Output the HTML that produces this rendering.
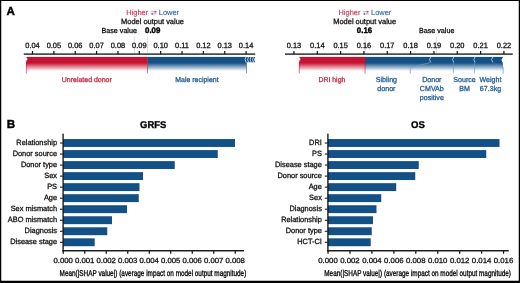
<!DOCTYPE html><html><head><meta charset="utf-8"><title>Figure</title><style>
html,body{margin:0;padding:0;background:#fff}svg{display:block}
text{font-family:"Liberation Sans",Arial,Helvetica,sans-serif;text-rendering:geometricPrecision}
</style></head><body>
<svg width="520" height="283" viewBox="0 0 520 283">
<defs>
<linearGradient id="gr" x1="0" y1="0" x2="0" y2="1"><stop offset="0" stop-color="#c41230"/><stop offset="0.4" stop-color="#c41230"/><stop offset="0.95" stop-color="#c41230" stop-opacity="0"/></linearGradient>
<linearGradient id="gb" x1="0" y1="0" x2="0" y2="1"><stop offset="0" stop-color="#135086"/><stop offset="0.4" stop-color="#135086"/><stop offset="0.95" stop-color="#135086" stop-opacity="0"/></linearGradient>
</defs>
<rect x="0" y="0" width="520" height="283" fill="#fff"/>
<rect x="0" y="0" width="520" height="1" fill="#000"/>
<rect x="0" y="0" width="1.25" height="283" fill="#000"/>
<rect x="518.75" y="0" width="1.25" height="283" fill="#000"/>
<rect x="0" y="280.75" width="520" height="2.25" fill="#000"/>
<text x="6.6" y="14.5" font-size="11.6" font-weight="bold" text-anchor="start" fill="#000" stroke="#000" stroke-width="0.4">A</text>
<text x="6.8" y="127.9" font-size="11.6" font-weight="bold" text-anchor="start" fill="#000" stroke="#000" stroke-width="0.4">B</text>
<rect x="134.25" y="36.8" width="0.7" height="17" fill="#cfcfcf"/>
<rect x="147.15" y="36.8" width="0.7" height="17" fill="#cfcfcf"/>
<rect x="23.75" y="53.45" width="231.5" height="1.3" fill="#111"/>
<rect x="31.90" y="51" width="1.2" height="3" fill="#111"/>
<text transform="translate(32.50 47.6) scale(1 1.03)" font-size="7.45" text-anchor="middle" fill="#111" stroke="#111" stroke-width="0.28">0.04</text>
<rect x="53.26" y="51" width="1.2" height="3" fill="#111"/>
<text transform="translate(53.86 47.6) scale(1 1.03)" font-size="7.45" text-anchor="middle" fill="#111" stroke="#111" stroke-width="0.28">0.05</text>
<rect x="74.62" y="51" width="1.2" height="3" fill="#111"/>
<text transform="translate(75.22 47.6) scale(1 1.03)" font-size="7.45" text-anchor="middle" fill="#111" stroke="#111" stroke-width="0.28">0.06</text>
<rect x="95.98" y="51" width="1.2" height="3" fill="#111"/>
<text transform="translate(96.58 47.6) scale(1 1.03)" font-size="7.45" text-anchor="middle" fill="#111" stroke="#111" stroke-width="0.28">0.07</text>
<rect x="117.34" y="51" width="1.2" height="3" fill="#111"/>
<text transform="translate(117.94 47.6) scale(1 1.03)" font-size="7.45" text-anchor="middle" fill="#111" stroke="#111" stroke-width="0.28">0.08</text>
<rect x="138.70" y="51" width="1.2" height="3" fill="#111"/>
<text transform="translate(139.30 47.6) scale(1 1.03)" font-size="7.45" text-anchor="middle" fill="#111" stroke="#111" stroke-width="0.28">0.09</text>
<rect x="160.06" y="51" width="1.2" height="3" fill="#111"/>
<text transform="translate(160.66 47.6) scale(1 1.03)" font-size="7.45" text-anchor="middle" fill="#111" stroke="#111" stroke-width="0.28">0.10</text>
<rect x="181.42" y="51" width="1.2" height="3" fill="#111"/>
<text transform="translate(182.02 47.6) scale(1 1.03)" font-size="7.45" text-anchor="middle" fill="#111" stroke="#111" stroke-width="0.28">0.11</text>
<rect x="202.78" y="51" width="1.2" height="3" fill="#111"/>
<text transform="translate(203.38 47.6) scale(1 1.03)" font-size="7.45" text-anchor="middle" fill="#111" stroke="#111" stroke-width="0.28">0.12</text>
<rect x="224.14" y="51" width="1.2" height="3" fill="#111"/>
<text transform="translate(224.74 47.6) scale(1 1.03)" font-size="7.45" text-anchor="middle" fill="#111" stroke="#111" stroke-width="0.28">0.13</text>
<rect x="245.50" y="51" width="1.2" height="3" fill="#111"/>
<text transform="translate(246.10 47.6) scale(1 1.03)" font-size="7.45" text-anchor="middle" fill="#111" stroke="#111" stroke-width="0.28">0.14</text>
<rect x="26" y="56.9" width="121.5" height="14.8" fill="url(#gr)"/>
<rect x="147.5" y="56.9" width="98.9" height="14.8" fill="url(#gb)"/>
<path d="M25.8 56.6 L27.5 58.9 L26.5 62 L25.8 62 Z" fill="#fff"/>
<rect x="25.9" y="60" width="0.7" height="13.5" fill="#c41230" opacity="0.8"/>
<rect x="147.2" y="56.9" width="0.7" height="16.6" fill="#c41230" opacity="0.8"/>
<text transform="translate(126.3 14.8) scale(1 1.03)" font-size="7.45" text-anchor="start" fill="#cc3350" stroke="#cc3350" stroke-width="0.12">Higher</text>
<text transform="translate(158.8 14.8) scale(1 1.03)" font-size="7.45" text-anchor="start" fill="#2e69a3" stroke="#2e69a3" stroke-width="0.12">Lower</text>
<path d="M150.90 11.75 H155.40" fill="none" stroke="#e08391" stroke-width="0.8"/>
<path d="M154.60 10.6 L157.20 11.75 L154.60 12.9 Z" fill="#d3455d"/>
<rect x="152.20" y="13.15" width="4.2" height="1.5" fill="#b4cce3"/>
<path d="M152.70 12.7 L150.60 13.9 L152.70 15.1 Z" fill="#356fa8"/>
<text transform="translate(152.5 24.2) scale(1 1.03)" font-size="7.45" text-anchor="middle" fill="#111" stroke="#111" stroke-width="0.28">Model output value</text>
<text transform="translate(136.9 33) scale(1 1.03)" font-size="7.15" text-anchor="end" fill="#111" stroke="#111" stroke-width="0.28">Base value</text>
<text transform="translate(152.7 33) scale(1 1.03)" font-size="7.8500000000000005" font-weight="bold" text-anchor="middle" fill="#000" stroke="#000" stroke-width="0.4">0.09</text>
<rect x="246.0" y="61" width="0.7" height="12.5" fill="#135086" opacity="0.8"/>
<path d="M245 56.9 L255.3 56.9 Q253.1 59.55 255.3 62.2 L245 62.2 Z" fill="#135086"/>
<path d="M246.20 56.5 Q244.00 59.55 246.20 62.6" fill="none" stroke="#fff" stroke-width="0.7"/>
<path d="M248.70 56.5 Q246.50 59.55 248.70 62.6" fill="none" stroke="#fff" stroke-width="0.7"/>
<path d="M251.20 56.5 Q249.00 59.55 251.20 62.6" fill="none" stroke="#fff" stroke-width="0.7"/>
<path d="M253.70 56.5 Q251.50 59.55 253.70 62.6" fill="none" stroke="#fff" stroke-width="0.7"/>
<text transform="translate(86.8 82.3) scale(1 1.03)" font-size="6.98" text-anchor="middle" fill="#c8283f" stroke="#c8283f" stroke-width="0.28">Unrelated donor</text>
<text transform="translate(196.9 82.4) scale(1 1.03)" font-size="6.98" text-anchor="middle" fill="#235d96" stroke="#235d96" stroke-width="0.28">Male recipient</text>
<rect x="435.9" y="36.8" width="0.7" height="17" fill="#cfcfcf"/>
<rect x="364.65" y="36.8" width="0.7" height="17" fill="#cfcfcf"/>
<rect x="285" y="53.45" width="227.75" height="1.3" fill="#111"/>
<rect x="293.35" y="51" width="1.2" height="3" fill="#111"/>
<text transform="translate(293.95 47.6) scale(1 1.03)" font-size="7.45" text-anchor="middle" fill="#111" stroke="#111" stroke-width="0.28">0.13</text>
<rect x="316.68" y="51" width="1.2" height="3" fill="#111"/>
<text transform="translate(317.28 47.6) scale(1 1.03)" font-size="7.45" text-anchor="middle" fill="#111" stroke="#111" stroke-width="0.28">0.14</text>
<rect x="340.01" y="51" width="1.2" height="3" fill="#111"/>
<text transform="translate(340.61 47.6) scale(1 1.03)" font-size="7.45" text-anchor="middle" fill="#111" stroke="#111" stroke-width="0.28">0.15</text>
<rect x="363.34" y="51" width="1.2" height="3" fill="#111"/>
<text transform="translate(363.94 47.6) scale(1 1.03)" font-size="7.45" text-anchor="middle" fill="#111" stroke="#111" stroke-width="0.28">0.16</text>
<rect x="386.67" y="51" width="1.2" height="3" fill="#111"/>
<text transform="translate(387.27 47.6) scale(1 1.03)" font-size="7.45" text-anchor="middle" fill="#111" stroke="#111" stroke-width="0.28">0.17</text>
<rect x="410.00" y="51" width="1.2" height="3" fill="#111"/>
<text transform="translate(410.60 47.6) scale(1 1.03)" font-size="7.45" text-anchor="middle" fill="#111" stroke="#111" stroke-width="0.28">0.18</text>
<rect x="433.33" y="51" width="1.2" height="3" fill="#111"/>
<text transform="translate(433.93 47.6) scale(1 1.03)" font-size="7.45" text-anchor="middle" fill="#111" stroke="#111" stroke-width="0.28">0.19</text>
<rect x="456.66" y="51" width="1.2" height="3" fill="#111"/>
<text transform="translate(457.26 47.6) scale(1 1.03)" font-size="7.45" text-anchor="middle" fill="#111" stroke="#111" stroke-width="0.28">0.20</text>
<rect x="479.99" y="51" width="1.2" height="3" fill="#111"/>
<text transform="translate(480.59 47.6) scale(1 1.03)" font-size="7.45" text-anchor="middle" fill="#111" stroke="#111" stroke-width="0.28">0.21</text>
<rect x="503.32" y="51" width="1.2" height="3" fill="#111"/>
<text transform="translate(503.92 47.6) scale(1 1.03)" font-size="7.45" text-anchor="middle" fill="#111" stroke="#111" stroke-width="0.28">0.22</text>
<rect x="299" y="56.9" width="66" height="14.8" fill="url(#gr)"/>
<rect x="365" y="56.9" width="138" height="14.8" fill="url(#gb)"/>
<path d="M298.8 56.6 L300.5 58.9 L299.5 62 L298.8 62 Z" fill="#fff"/>
<rect x="298.9" y="60" width="0.7" height="13.5" fill="#c41230" opacity="0.8"/>
<rect x="364.7" y="56.9" width="0.7" height="16.6" fill="#c41230" opacity="0.8"/>
<text transform="translate(338.5 14.8) scale(1 1.03)" font-size="7.45" text-anchor="start" fill="#cc3350" stroke="#cc3350" stroke-width="0.12">Higher</text>
<text transform="translate(371.0 14.8) scale(1 1.03)" font-size="7.45" text-anchor="start" fill="#2e69a3" stroke="#2e69a3" stroke-width="0.12">Lower</text>
<path d="M363.10 11.75 H367.60" fill="none" stroke="#e08391" stroke-width="0.8"/>
<path d="M366.80 10.6 L369.40 11.75 L366.80 12.9 Z" fill="#d3455d"/>
<rect x="364.40" y="13.15" width="4.2" height="1.5" fill="#b4cce3"/>
<path d="M364.90 12.7 L362.80 13.9 L364.90 15.1 Z" fill="#356fa8"/>
<text transform="translate(364.7 24.2) scale(1 1.03)" font-size="7.45" text-anchor="middle" fill="#111" stroke="#111" stroke-width="0.28">Model output value</text>
<text transform="translate(436.7 33) scale(1 1.03)" font-size="7.15" text-anchor="middle" fill="#111" stroke="#111" stroke-width="0.28">Base value</text>
<text transform="translate(364.5 33) scale(1 1.03)" font-size="7.8500000000000005" font-weight="bold" text-anchor="middle" fill="#000" stroke="#000" stroke-width="0.4">0.16</text>
<path d="M430.8 57 L429.5 59.7 L430.8 62.4" fill="none" stroke="#b5cbe0" stroke-width="0.9"/>
<path d="M453.8 57 L452.5 59.7 L453.8 62.4" fill="none" stroke="#b5cbe0" stroke-width="0.9"/>
<path d="M475.1 57 L473.8 59.7 L475.1 62.4" fill="none" stroke="#b5cbe0" stroke-width="0.9"/>
<path d="M492.8 57 L491.5 59.7 L492.8 62.4" fill="none" stroke="#b5cbe0" stroke-width="0.9"/>
<path d="M503.4 56.6 L501.4 59.9 L502.6 62.4 L503.6 67.4 L504 67.4 L504 56.6 Z" fill="#fff"/>
<path d="M430.5 62.4 L410.3 67.7 L410.3 73.5" fill="none" stroke="#6f99c2" stroke-width="0.7"/>
<path d="M453.4 62.4 L453.4 73.5" fill="none" stroke="#6f99c2" stroke-width="0.7"/>
<path d="M474.6 62.4 L474.6 73.5" fill="none" stroke="#6f99c2" stroke-width="0.7"/>
<path d="M492.6 62.4 L502.6 67.6" fill="none" stroke="#6f99c2" stroke-width="0.6" opacity="0.4"/>
<path d="M503.1 66.9 L503.1 73.5" fill="none" stroke="#6f99c2" stroke-width="0.8"/>
<text transform="translate(331.9 82.30) scale(1 1.03)" font-size="6.9" text-anchor="middle" fill="#c8283f" stroke="#c8283f" stroke-width="0.28">DRI high</text>
<text transform="translate(386.4 82.30) scale(1 1.03)" font-size="7.1" text-anchor="middle" fill="#235d96" stroke="#235d96" stroke-width="0.28">Sibling</text>
<text transform="translate(386.4 91.00) scale(1 1.03)" font-size="7.1" text-anchor="middle" fill="#235d96" stroke="#235d96" stroke-width="0.28">donor</text>
<text transform="translate(431.8 82.30) scale(1 1.03)" font-size="7.1" text-anchor="middle" fill="#235d96" stroke="#235d96" stroke-width="0.28">Donor</text>
<text transform="translate(431.8 91.00) scale(1 1.03)" font-size="7.1" text-anchor="middle" fill="#235d96" stroke="#235d96" stroke-width="0.28">CMVAb</text>
<text transform="translate(431.8 99.70) scale(1 1.03)" font-size="7.1" text-anchor="middle" fill="#235d96" stroke="#235d96" stroke-width="0.28">positive</text>
<text transform="translate(464.5 82.30) scale(1 1.03)" font-size="7.1" text-anchor="middle" fill="#235d96" stroke="#235d96" stroke-width="0.28">Source</text>
<text transform="translate(464.5 91.00) scale(1 1.03)" font-size="7.1" text-anchor="middle" fill="#235d96" stroke="#235d96" stroke-width="0.28">BM</text>
<text transform="translate(490.5 82.30) scale(1 1.03)" font-size="7.1" text-anchor="middle" fill="#235d96" stroke="#235d96" stroke-width="0.28">Weight</text>
<text transform="translate(490.5 91.00) scale(1 1.03)" font-size="7.1" text-anchor="middle" fill="#235d96" stroke="#235d96" stroke-width="0.28">67.3kg</text>
<text transform="translate(140.05 127.75) scale(1 1.001)" font-size="9.8" font-weight="bold" text-anchor="start" fill="#000" stroke="#000" stroke-width="0.35" textLength="26.2" lengthAdjust="spacingAndGlyphs">GRFS</text>
<rect x="63.1" y="139.05" width="171.90" height="7.9" fill="#135086"/>
<rect x="60.0" y="142.50" width="2.8" height="1.05" fill="#111"/>
<text transform="translate(57.050000000000004 145.15) scale(1 1.03)" font-size="7.4" text-anchor="end" fill="#111" stroke="#111" stroke-width="0.28">Relationship</text>
<rect x="63.1" y="150.08" width="154.65" height="7.9" fill="#135086"/>
<rect x="60.0" y="153.53" width="2.8" height="1.05" fill="#111"/>
<text transform="translate(57.050000000000004 156.18) scale(1 1.03)" font-size="7.4" text-anchor="end" fill="#111" stroke="#111" stroke-width="0.28">Donor source</text>
<rect x="63.1" y="161.11" width="111.65" height="7.9" fill="#135086"/>
<rect x="60.0" y="164.56" width="2.8" height="1.05" fill="#111"/>
<text transform="translate(57.050000000000004 167.21) scale(1 1.03)" font-size="7.4" text-anchor="end" fill="#111" stroke="#111" stroke-width="0.28">Donor type</text>
<rect x="63.1" y="172.14" width="79.90" height="7.9" fill="#135086"/>
<rect x="60.0" y="175.59" width="2.8" height="1.05" fill="#111"/>
<text transform="translate(57.050000000000004 178.24) scale(1 1.03)" font-size="7.4" text-anchor="end" fill="#111" stroke="#111" stroke-width="0.28">Sex</text>
<rect x="63.1" y="183.17" width="76.40" height="7.9" fill="#135086"/>
<rect x="60.0" y="186.62" width="2.8" height="1.05" fill="#111"/>
<text transform="translate(57.050000000000004 189.27) scale(1 1.03)" font-size="7.4" text-anchor="end" fill="#111" stroke="#111" stroke-width="0.28">PS</text>
<rect x="63.1" y="194.20" width="75.65" height="7.9" fill="#135086"/>
<rect x="60.0" y="197.65" width="2.8" height="1.05" fill="#111"/>
<text transform="translate(57.050000000000004 200.30) scale(1 1.03)" font-size="7.4" text-anchor="end" fill="#111" stroke="#111" stroke-width="0.28">Age</text>
<rect x="63.1" y="205.23" width="63.90" height="7.9" fill="#135086"/>
<rect x="60.0" y="208.68" width="2.8" height="1.05" fill="#111"/>
<text transform="translate(57.050000000000004 211.33) scale(1 1.03)" font-size="7.4" text-anchor="end" fill="#111" stroke="#111" stroke-width="0.28">Sex mismatch</text>
<rect x="63.1" y="216.26" width="48.90" height="7.9" fill="#135086"/>
<rect x="60.0" y="219.71" width="2.8" height="1.05" fill="#111"/>
<text transform="translate(57.050000000000004 222.36) scale(1 1.03)" font-size="7.4" text-anchor="end" fill="#111" stroke="#111" stroke-width="0.28">ABO mismatch</text>
<rect x="63.1" y="227.29" width="44.15" height="7.9" fill="#135086"/>
<rect x="60.0" y="230.74" width="2.8" height="1.05" fill="#111"/>
<text transform="translate(57.050000000000004 233.39) scale(1 1.03)" font-size="7.4" text-anchor="end" fill="#111" stroke="#111" stroke-width="0.28">Diagnosis</text>
<rect x="63.1" y="238.32" width="31.60" height="7.9" fill="#135086"/>
<rect x="60.0" y="241.77" width="2.8" height="1.05" fill="#111"/>
<text transform="translate(57.050000000000004 244.42) scale(1 1.03)" font-size="7.4" text-anchor="end" fill="#111" stroke="#111" stroke-width="0.28">Disease stage</text>
<rect x="62.45" y="133.6" width="1.3" height="118" fill="#111"/>
<rect x="62.45" y="250.05" width="181.55" height="1.4" fill="#111"/>
<rect x="62.65" y="251" width="1.2" height="2.8" fill="#111"/>
<text transform="translate(63.20 263.1) scale(1 0.95)" font-size="7.78" text-anchor="middle" fill="#111" stroke="#111" stroke-width="0.28">0.000</text>
<rect x="84.15" y="251" width="1.2" height="2.8" fill="#111"/>
<text transform="translate(84.70 263.1) scale(1 0.95)" font-size="7.78" text-anchor="middle" fill="#111" stroke="#111" stroke-width="0.28">0.001</text>
<rect x="105.65" y="251" width="1.2" height="2.8" fill="#111"/>
<text transform="translate(106.20 263.1) scale(1 0.95)" font-size="7.78" text-anchor="middle" fill="#111" stroke="#111" stroke-width="0.28">0.002</text>
<rect x="127.15" y="251" width="1.2" height="2.8" fill="#111"/>
<text transform="translate(127.70 263.1) scale(1 0.95)" font-size="7.78" text-anchor="middle" fill="#111" stroke="#111" stroke-width="0.28">0.003</text>
<rect x="148.65" y="251" width="1.2" height="2.8" fill="#111"/>
<text transform="translate(149.20 263.1) scale(1 0.95)" font-size="7.78" text-anchor="middle" fill="#111" stroke="#111" stroke-width="0.28">0.004</text>
<rect x="170.15" y="251" width="1.2" height="2.8" fill="#111"/>
<text transform="translate(170.70 263.1) scale(1 0.95)" font-size="7.78" text-anchor="middle" fill="#111" stroke="#111" stroke-width="0.28">0.005</text>
<rect x="191.65" y="251" width="1.2" height="2.8" fill="#111"/>
<text transform="translate(192.20 263.1) scale(1 0.95)" font-size="7.78" text-anchor="middle" fill="#111" stroke="#111" stroke-width="0.28">0.006</text>
<rect x="213.15" y="251" width="1.2" height="2.8" fill="#111"/>
<text transform="translate(213.70 263.1) scale(1 0.95)" font-size="7.78" text-anchor="middle" fill="#111" stroke="#111" stroke-width="0.28">0.007</text>
<rect x="234.65" y="251" width="1.2" height="2.8" fill="#111"/>
<text transform="translate(235.20 263.1) scale(1 0.95)" font-size="7.78" text-anchor="middle" fill="#111" stroke="#111" stroke-width="0.28">0.008</text>
<text x="59.6" y="275.8" font-size="8.5" text-anchor="start" fill="#000" stroke="#000" stroke-width="0.3" textLength="186.70000000000002" lengthAdjust="spacingAndGlyphs">Mean(|SHAP value|) (average impact on model output magnitude)</text>
<text transform="translate(410.95000000000005 127.75) scale(1 1.001)" font-size="9.8" font-weight="bold" text-anchor="start" fill="#000" stroke="#000" stroke-width="0.35" textLength="13.8" lengthAdjust="spacingAndGlyphs">OS</text>
<rect x="327.9" y="139.05" width="171.60" height="7.9" fill="#135086"/>
<rect x="324.79999999999995" y="142.50" width="2.8" height="1.05" fill="#111"/>
<text transform="translate(321.84999999999997 145.15) scale(1 1.03)" font-size="7.4" text-anchor="end" fill="#111" stroke="#111" stroke-width="0.28">DRI</text>
<rect x="327.9" y="150.08" width="158.35" height="7.9" fill="#135086"/>
<rect x="324.79999999999995" y="153.53" width="2.8" height="1.05" fill="#111"/>
<text transform="translate(321.84999999999997 156.18) scale(1 1.03)" font-size="7.4" text-anchor="end" fill="#111" stroke="#111" stroke-width="0.28">PS</text>
<rect x="327.9" y="161.11" width="90.85" height="7.9" fill="#135086"/>
<rect x="324.79999999999995" y="164.56" width="2.8" height="1.05" fill="#111"/>
<text transform="translate(321.84999999999997 167.21) scale(1 1.03)" font-size="7.4" text-anchor="end" fill="#111" stroke="#111" stroke-width="0.28">Disease stage</text>
<rect x="327.9" y="172.14" width="87.35" height="7.9" fill="#135086"/>
<rect x="324.79999999999995" y="175.59" width="2.8" height="1.05" fill="#111"/>
<text transform="translate(321.84999999999997 178.24) scale(1 1.03)" font-size="7.4" text-anchor="end" fill="#111" stroke="#111" stroke-width="0.28">Donor source</text>
<rect x="327.9" y="183.17" width="68.30" height="7.9" fill="#135086"/>
<rect x="324.79999999999995" y="186.62" width="2.8" height="1.05" fill="#111"/>
<text transform="translate(321.84999999999997 189.27) scale(1 1.03)" font-size="7.4" text-anchor="end" fill="#111" stroke="#111" stroke-width="0.28">Age</text>
<rect x="327.9" y="194.20" width="53.35" height="7.9" fill="#135086"/>
<rect x="324.79999999999995" y="197.65" width="2.8" height="1.05" fill="#111"/>
<text transform="translate(321.84999999999997 200.30) scale(1 1.03)" font-size="7.4" text-anchor="end" fill="#111" stroke="#111" stroke-width="0.28">Sex</text>
<rect x="327.9" y="205.23" width="48.60" height="7.9" fill="#135086"/>
<rect x="324.79999999999995" y="208.68" width="2.8" height="1.05" fill="#111"/>
<text transform="translate(321.84999999999997 211.33) scale(1 1.03)" font-size="7.4" text-anchor="end" fill="#111" stroke="#111" stroke-width="0.28">Diagnosis</text>
<rect x="327.9" y="216.26" width="45.10" height="7.9" fill="#135086"/>
<rect x="324.79999999999995" y="219.71" width="2.8" height="1.05" fill="#111"/>
<text transform="translate(321.84999999999997 222.36) scale(1 1.03)" font-size="7.4" text-anchor="end" fill="#111" stroke="#111" stroke-width="0.28">Relationship</text>
<rect x="327.9" y="227.29" width="43.85" height="7.9" fill="#135086"/>
<rect x="324.79999999999995" y="230.74" width="2.8" height="1.05" fill="#111"/>
<text transform="translate(321.84999999999997 233.39) scale(1 1.03)" font-size="7.4" text-anchor="end" fill="#111" stroke="#111" stroke-width="0.28">Donor type</text>
<rect x="327.9" y="238.32" width="42.85" height="7.9" fill="#135086"/>
<rect x="324.79999999999995" y="241.77" width="2.8" height="1.05" fill="#111"/>
<text transform="translate(321.84999999999997 244.42) scale(1 1.03)" font-size="7.4" text-anchor="end" fill="#111" stroke="#111" stroke-width="0.28">HCT-CI</text>
<rect x="327.25" y="133.6" width="1.3" height="118" fill="#111"/>
<rect x="327.25" y="250.05" width="181.50000000000003" height="1.4" fill="#111"/>
<rect x="327.45" y="251" width="1.2" height="2.8" fill="#111"/>
<text transform="translate(328.00 263.1) scale(1 0.95)" font-size="7.78" text-anchor="middle" fill="#111" stroke="#111" stroke-width="0.28">0.000</text>
<rect x="349.39" y="251" width="1.2" height="2.8" fill="#111"/>
<text transform="translate(349.94 263.1) scale(1 0.95)" font-size="7.78" text-anchor="middle" fill="#111" stroke="#111" stroke-width="0.28">0.002</text>
<rect x="371.33" y="251" width="1.2" height="2.8" fill="#111"/>
<text transform="translate(371.88 263.1) scale(1 0.95)" font-size="7.78" text-anchor="middle" fill="#111" stroke="#111" stroke-width="0.28">0.004</text>
<rect x="393.27" y="251" width="1.2" height="2.8" fill="#111"/>
<text transform="translate(393.82 263.1) scale(1 0.95)" font-size="7.78" text-anchor="middle" fill="#111" stroke="#111" stroke-width="0.28">0.006</text>
<rect x="415.21" y="251" width="1.2" height="2.8" fill="#111"/>
<text transform="translate(415.76 263.1) scale(1 0.95)" font-size="7.78" text-anchor="middle" fill="#111" stroke="#111" stroke-width="0.28">0.008</text>
<rect x="437.15" y="251" width="1.2" height="2.8" fill="#111"/>
<text transform="translate(437.70 263.1) scale(1 0.95)" font-size="7.78" text-anchor="middle" fill="#111" stroke="#111" stroke-width="0.28">0.010</text>
<rect x="459.09" y="251" width="1.2" height="2.8" fill="#111"/>
<text transform="translate(459.64 263.1) scale(1 0.95)" font-size="7.78" text-anchor="middle" fill="#111" stroke="#111" stroke-width="0.28">0.012</text>
<rect x="481.03" y="251" width="1.2" height="2.8" fill="#111"/>
<text transform="translate(481.58 263.1) scale(1 0.95)" font-size="7.78" text-anchor="middle" fill="#111" stroke="#111" stroke-width="0.28">0.014</text>
<rect x="502.97" y="251" width="1.2" height="2.8" fill="#111"/>
<text transform="translate(503.52 263.1) scale(1 0.95)" font-size="7.78" text-anchor="middle" fill="#111" stroke="#111" stroke-width="0.28">0.016</text>
<text x="324.3" y="275.8" font-size="8.5" text-anchor="start" fill="#000" stroke="#000" stroke-width="0.3" textLength="186.7" lengthAdjust="spacingAndGlyphs">Mean(|SHAP value|) (average impact on model output magnitude)</text>
</svg></body></html>
